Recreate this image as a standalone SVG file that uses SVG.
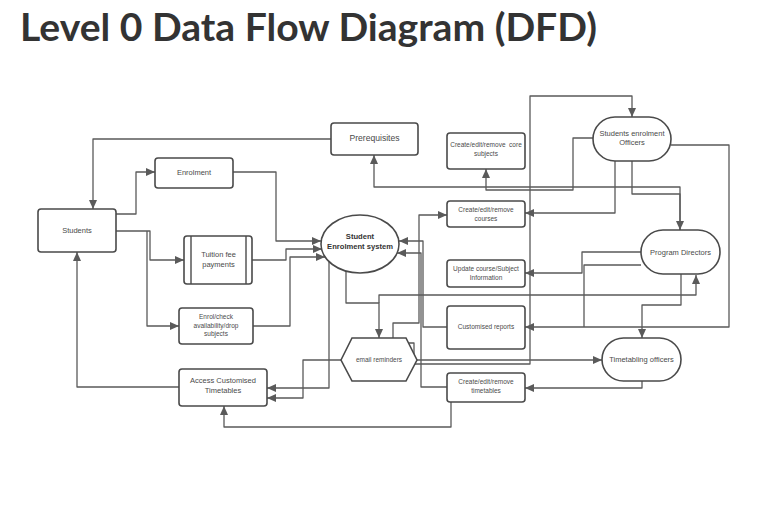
<svg xmlns="http://www.w3.org/2000/svg" width="781" height="508" viewBox="0 0 781 508">
<defs>
<style>
.n{fill:#fff;stroke:#4a4a4a;stroke-width:1.6}
.c path{fill:none;stroke:#5a5a5a;stroke-width:1.3;stroke-linejoin:round;marker-end:url(#a)}
.c path.na{marker-end:none}
.t{font-family:"Liberation Sans",Arial,sans-serif;fill:#4a4a4a;text-anchor:middle}
.s75{font-size:7.5px}
.s65{font-size:6.5px}
.s86{font-size:8.6px}
.b{font-weight:bold;font-size:7.6px;fill:#333}
</style>
<marker id="a" markerUnits="userSpaceOnUse" markerWidth="9" markerHeight="8" refX="9" refY="4" orient="auto">
<path d="M0,0 L9,4 L0,8 z" fill="#5a5a5a"/>
</marker>
</defs>
<rect width="781" height="508" fill="#fff"/>
<text x="20" y="41" font-family="Lato,'Open Sans',sans-serif" font-weight="bold" font-size="38" fill="#333" textLength="577" lengthAdjust="spacingAndGlyphs">Level 0 Data Flow Diagram (DFD)</text>

<g class="c" id="connectors">
<path d="M331,139 H93 V209"/>
<path d="M116,214 H136 V172 H155"/>
<path d="M233,172 H276 V241 H321"/>
<path d="M116,231 H150 V260 H184"/>
<path d="M147,231 V326 H179"/>
<path d="M252,260 H286 V249 H322"/>
<path d="M253,326 H290 V257 H325"/>
<path d="M346,271 V303 H379 V338"/>
<path d="M379,303 V295 H696 V275"/>
<path d="M393,338 V323 H419 V215 H447"/>
<path d="M447,327 H423 V241 H399"/>
<path d="M447,387 H421 V253 H397"/>
<path d="M408,343 H414 V364 H530 V96 H632 V117"/>
<path d="M417,360 H602"/>
<path d="M329,262 V388 H267"/>
<path d="M341,360 H303 V398 H267"/>
<path d="M179,387 H77 V252"/>
<path d="M451,402 V427 H224 V406"/>
<path d="M593,138 H573 V190 H486 V169"/>
<path d="M680,230 V187 H374 V155"/>
<path d="M632,161 V194 H680 V230"/>
<path d="M615,161 V213 H525"/>
<path d="M671,145 H729 V327 H525"/>
<path d="M641,252 H582 V273 H525"/>
<path class="na" d="M641,265 H584 V327"/>
<path d="M681,274 V305 H642 V338"/>
<path d="M642,381 V388 H525"/>
</g>

<g id="students"><rect class="n" x="38" y="209" width="78" height="43" rx="3"/><text class="t s75" x="77" y="233">Students</text></g>
<g id="enrolment"><rect class="n" x="155" y="158" width="78" height="30" rx="3"/><text class="t s75" x="194" y="175">Enrolment</text></g>
<g id="tuition"><rect class="n" x="184" y="236" width="68" height="48" rx="3"/><line x1="191" y1="236" x2="191" y2="284" stroke="#4a4a4a" stroke-width="1.4"/><line x1="246" y1="236" x2="246" y2="284" stroke="#4a4a4a" stroke-width="1.4"/><text class="t s75" x="218.5" y="256.5">Tuition fee</text><text class="t s75" x="218.5" y="266.5">payments</text></g>
<g id="enrolcheck"><rect class="n" x="179" y="308" width="74" height="36" rx="3"/><text class="t s65" x="216" y="319">Enrol/check</text><text class="t s65" x="216" y="327.5">availability/drop</text><text class="t s65" x="216" y="335.5">subjects</text></g>
<g id="access"><rect class="n" x="179" y="369" width="88" height="37" rx="3"/><text class="t s75" x="223" y="383">Access Customised</text><text class="t s75" x="223" y="393">Timetables</text></g>
<g id="prerequisites"><rect class="n" x="331" y="123" width="87" height="32" rx="3"/><text class="t s86" x="374.5" y="141">Prerequisites</text></g>
<g id="system"><ellipse class="n" cx="360" cy="244" rx="39" ry="29"/><text class="t b" x="360" y="239">Student</text><text class="t b" x="360" y="249">Enrolment system</text></g>
<g id="email"><polygon class="n" points="341,360 352,338 406,338 417,360 406,381 352,381"/><text class="t s65" x="379" y="362">email reminders</text></g>
<g id="core"><rect class="n" x="447" y="133" width="78" height="36" rx="3"/><text class="t s65" x="486" y="147" xml:space="preserve">Create/edit/remove  core</text><text class="t s65" x="486" y="156">subjects</text></g>
<g id="courses"><rect class="n" x="447" y="201" width="78" height="26" rx="3"/><text class="t s65" x="486" y="212">Create/edit/remove</text><text class="t s65" x="486" y="221">courses</text></g>
<g id="update"><rect class="n" x="447" y="260" width="78" height="27" rx="3"/><text class="t s65" x="486" y="271">Update course/Subject</text><text class="t s65" x="486" y="279.5">Information</text></g>
<g id="reports"><rect class="n" x="447" y="306" width="78" height="43" rx="3"/><text class="t s65" x="486" y="328.5">Customised reports</text></g>
<g id="timetables"><rect class="n" x="447" y="373" width="78" height="29" rx="3"/><text class="t s65" x="486" y="384">Create/edit/remove</text><text class="t s65" x="486" y="393">timetables</text></g>
<g id="seo"><rect class="n" x="593" y="117" width="78" height="44" rx="22"/><text class="t s75" x="632" y="136">Students enrolment</text><text class="t s75" x="632" y="145">Officers</text></g>
<g id="pd"><rect class="n" x="641" y="230" width="79" height="44" rx="22"/><text class="t s75" x="680.5" y="254.5">Program Directors</text></g>
<g id="to"><rect class="n" x="602" y="338" width="79" height="43" rx="21.5"/><text class="t s75" x="641.5" y="362">Timetabling officers</text></g>
</svg>
